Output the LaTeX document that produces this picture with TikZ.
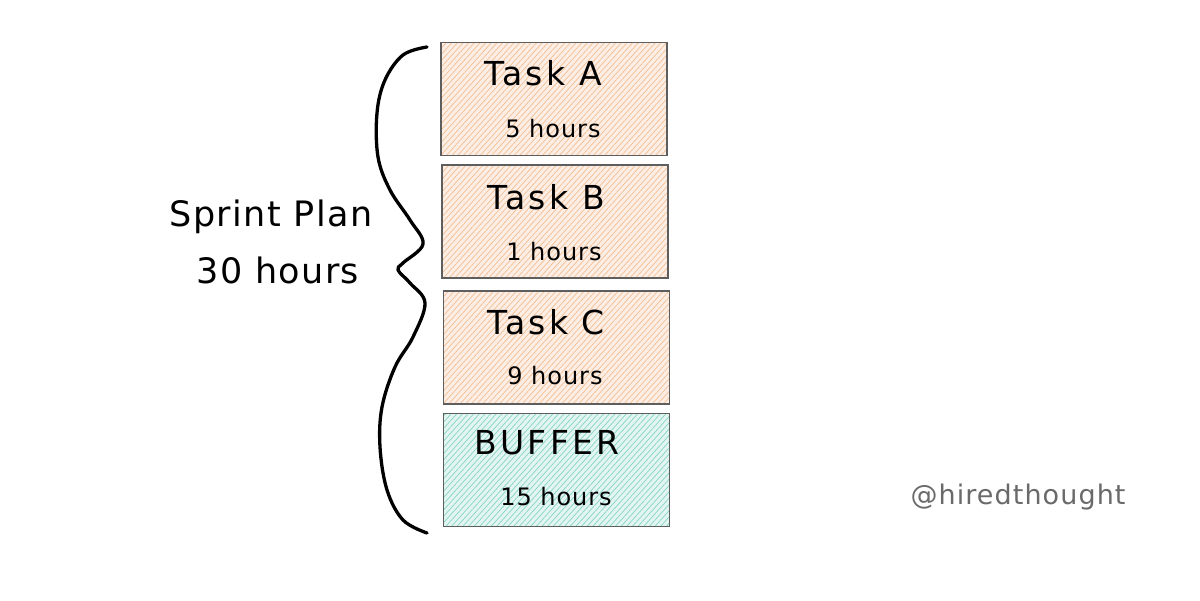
\documentclass[tikz,border=0pt]{standalone}
\usepackage{fontspec}
\setmainfont{DejaVu Sans}
\newfontfamily\handfont{DejaVu Sans}[LetterSpace=10]
\newfontfamily\handfontb{DejaVu Sans}[LetterSpace=4]
\usetikzlibrary{patterns.meta}
\definecolor{peachbg}{HTML}{FCEEE4}
\definecolor{peachln}{HTML}{F2BE94}
\definecolor{tealbg}{HTML}{E2F5F1}
\definecolor{tealln}{HTML}{86D3C3}
\definecolor{boxedge}{HTML}{5E5E5E}
\definecolor{handle}{HTML}{6A6A6A}
\tikzset{
  x=1pt, y=-1pt,
  taskbox/.style={draw=boxedge, line width=1.3pt,
    preaction={fill=peachbg},
    preaction={pattern={Lines[angle=48, distance=4.2pt, line width=0.7pt]}, pattern color=peachln},
    minimum width=226pt, minimum height=113pt, inner sep=0pt},
  bufbox/.style={draw=boxedge, line width=1.3pt,
    preaction={fill=tealbg},
    preaction={pattern={Lines[angle=48, distance=4.2pt, line width=0.7pt]}, pattern color=tealln},
    minimum width=226pt, minimum height=113pt, inner sep=0pt},
  title/.style={font=\handfont\fontsize{33}{38}\selectfont, inner sep=0pt, anchor=center},
  hours/.style={font=\handfontb\fontsize{24}{28}\selectfont, inner sep=0pt, anchor=center},
  plan/.style={font=\handfontb\fontsize{35}{40}\selectfont, inner sep=0pt, anchor=center},
  brace/.style={line width=3.3pt, line cap=round, line join=round},
}
\begin{document}
\begin{tikzpicture}
\useasboundingbox (0,0) rectangle (1200,601);
\fill[white] (0,0) rectangle (1200,601);

\node[taskbox] (ta) at (554,99) {};
\node[taskbox] (tb) at (555,221.5) {};
\node[taskbox] (tc) at (556.5,347.5) {};
\node[bufbox] (buf) at (556.5,470) {};

\node[title] (tat) at (543,73) {Task A};
\node[hours] (tah) at (553,129) {5 hours};
\node[title] (tbt) at (546,197) {Task B};
\node[hours] (tbh) at (554,252) {1 hours};
\node[title] (tct) at (546,322) {Task C};
\node[hours] (tch) at (555,376) {9 hours};
\node[title] (buft) at (547,443) {BUFFER};
\node[hours] (bufh) at (556,497) {15 hours};

\draw[brace] plot[smooth, tension=0.6] coordinates {
  (427,47) (403,55) (385,80) (377,113) (378,157) (390,190) (410,220)
  (423,244) (403,263) (398,270) (410,283) (425,303) (413,337) (395,367)
  (382,407) (380,447) (387,490) (403,520) (427,533)};

\node[plan] (sp) at (271,217) {Sprint Plan};
\node[plan] (sh) at (278,270) {30 hours};

\node[font=\handfontb\fontsize{27}{30}\selectfont, text=handle, inner sep=0pt] (hand) at (1018,497) {@hiredthought};
\end{tikzpicture}
\end{document}
